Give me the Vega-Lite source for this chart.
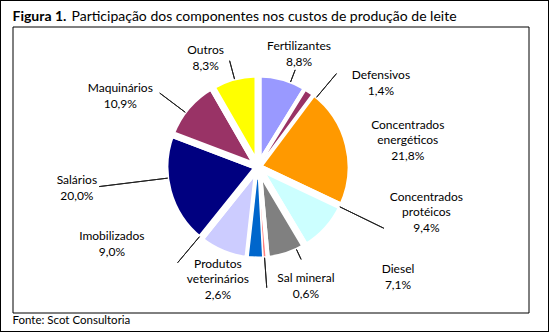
{
  "$schema": "https://vega.github.io/schema/vega-lite/v6.json",
  "autosize": "none",
  "padding": {"left": 12.5, "top": 26.5, "right": 20.5, "bottom": 19.5},
  "width": 516,
  "height": 286,
  "background": "white",
  "config": {
    "view": {"stroke": "black", "strokeWidth": 1},
    "font": "Lato",
    "locale": {"number": {"decimal": ",", "thousands": ".", "grouping": [3], "currency": ["R$", ""]}},
    "axis": {"domain": true, "domainColor": "black", "domainWidth": 1, "domainCap": "square", "ticks": false, "labels": false, "grid": false, "translate": 0, "titleFont": "Lato", "titleColor": "black", "titleAngle": 0, "titleAnchor": "start", "titleAlign": "left", "titleBaseline": "alphabetic", "titlePadding": 0}
  },
  "data": {"values": [
    {"i": 0, "c": "Fertilizantes", "p": 0.088},
    {"i": 1, "c": "Defensivos", "p": 0.014},
    {"i": 2, "c": "Concentrados energéticos", "p": 0.218},
    {"i": 3, "c": "Concentrados protéicos", "p": 0.094},
    {"i": 4, "c": "Diesel", "p": 0.071},
    {"i": 5, "c": "Sal mineral", "p": 0.006},
    {"i": 6, "c": "Produtos veterinários", "p": 0.026},
    {"i": 7, "c": "Imobilizados", "p": 0.09},
    {"i": 8, "c": "Salários", "p": 0.2},
    {"i": 9, "c": "Maquinários", "p": 0.109},
    {"i": 10, "c": "Outros", "p": 0.083}
  ]},
  "resolve": {"axis": {"x": "independent", "y": "independent"}},
  "layer": [
    {
      "data": {"values": [{}]},
      "mark": {"type": "point", "opacity": 0},
      "encoding": {
        "x": {"datum": 0, "type": "quantitative", "scale": {"domain": [0, 1], "range": [-12, 536], "nice": false, "zero": false},
          "axis": {"orient": "bottom", "offset": 19, "title": "Fonte: Scot Consultoria", "titleX": 0, "titleY": -7.5, "titleFontSize": 11.5, "titleFontWeight": "normal"}},
        "y": {"datum": 0, "type": "quantitative", "scale": {"domain": [0, 1], "range": [305, -26], "nice": false, "zero": false},
          "axis": {"orient": "left", "offset": 12, "title": "Figura 1.", "titleX": 12, "titleY": -6, "titleFontSize": 14, "titleFontWeight": "bold"}}
      }
    },
    {
      "data": {"values": [{}]},
      "mark": {"type": "point", "opacity": 0},
      "encoding": {
        "x": {"datum": 0, "type": "quantitative",
          "axis": {"orient": "top", "offset": 26, "title": "Participação dos componentes nos custos de produção de leite", "titleX": 59, "titleY": 20, "titleFontSize": 14, "titleFontWeight": "normal"}},
        "y": {"datum": 0, "type": "quantitative",
          "axis": {"orient": "right", "offset": 20, "title": null}}
      }
    },
    {
      "mark": {"type": "arc", "radius": 93, "stroke": "white", "strokeWidth": 7, "strokeJoin": "round", "xOffset": -12.5, "yOffset": -2.5},
      "encoding": {
        "theta": {"field": "p", "type": "quantitative", "stack": true},
        "order": {"field": "i", "type": "quantitative"},
        "color": {"field": "c", "type": "nominal", "legend": null, "scale": {
          "domain": ["Fertilizantes", "Defensivos", "Concentrados energéticos", "Concentrados protéicos", "Diesel", "Sal mineral", "Produtos veterinários", "Imobilizados", "Salários", "Maquinários", "Outros"],
          "range": ["#9999FF", "#993366", "#FF9900", "#CCFFFF", "#808080", "#FF8080", "#0066CC", "#CCCCFF", "#000080", "#993366", "#FFFF00"]}}
      }
    },
    {
      "mark": {"type": "arc", "radius": 90.2, "radius2": 12, "stroke": "white", "strokeWidth": 1.5, "strokeJoin": "round", "xOffset": -12.5, "yOffset": -2.5},
      "encoding": {
        "theta": {"field": "p", "type": "quantitative", "stack": true},
        "order": {"field": "i", "type": "quantitative"},
        "color": {"field": "c", "type": "nominal", "legend": null},
        "opacity": {"condition": {"test": "datum.p < 0.03", "value": 1}, "value": 0}
      }
    },
    {
      "mark": {"type": "arc", "padAngle": 3.14, "filled": false, "stroke": "#202020", "strokeWidth": 1, "radius2": 91,
        "radius": {"expr": "[104, 122, 95, 140, 102, 121, 95, 125, 160, 123, 110][datum.i]"},
        "thetaOffset": {"expr": "[5.1, 5.8, 0, -16.3, -7, 0, 0, 17.5, 8.2, -3.5, 0][datum.i] * PI / 180"},
        "xOffset": -12.5, "yOffset": -2.5},
      "encoding": {
        "theta": {"field": "p", "type": "quantitative", "stack": true},
        "order": {"field": "i", "type": "quantitative"},
        "opacity": {"condition": {"test": "datum.i == 2 || datum.i == 6", "value": 0}, "value": 1}
      }
    },
    {
      "mark": {"type": "text", "radius": 110, "xOffset": -12.5, "yOffset": -2.5, "fontSize": 12, "lineHeight": 15, "baseline": "bottom", "align": "center", "color": "black", "font": "Lato",
        "lineBreak": {"expr": "datum.i == 5 ? '|' : ' '"},
        "dx": {"expr": "[11, 61, 43, 87, 106, 40, -37, -104, -75, -54, -24][datum.i]"},
        "dy": {"expr": "[-8.5, 5.5, -8.5, -36.5, 4.5, 8.5, -5.5, -25.5, -8.5, -0.5, -3.5][datum.i]"}},
      "encoding": {
        "theta": {"field": "p", "type": "quantitative", "stack": true},
        "order": {"field": "i", "type": "quantitative"},
        "text": {"field": "c", "type": "nominal"}
      }
    },
    {
      "mark": {"type": "text", "radius": 110, "xOffset": -12.5, "yOffset": -2.5, "fontSize": 12, "baseline": "alphabetic", "align": "center", "color": "black", "font": "Lato",
        "dx": {"expr": "[11, 61, 43, 87, 106, 40, -37, -104, -75, -54, -24][datum.i]"},
        "dy": {"expr": "[4.5, 18.5, 19.5, -8.5, 17.5, 21.5, 22.5, -12.5, 4.5, 12.5, 9.5][datum.i]"}},
      "encoding": {
        "theta": {"field": "p", "type": "quantitative", "stack": true},
        "order": {"field": "i", "type": "quantitative"},
        "text": {"field": "p", "type": "quantitative", "format": ".1%"}
      }
    }
  ]
}
